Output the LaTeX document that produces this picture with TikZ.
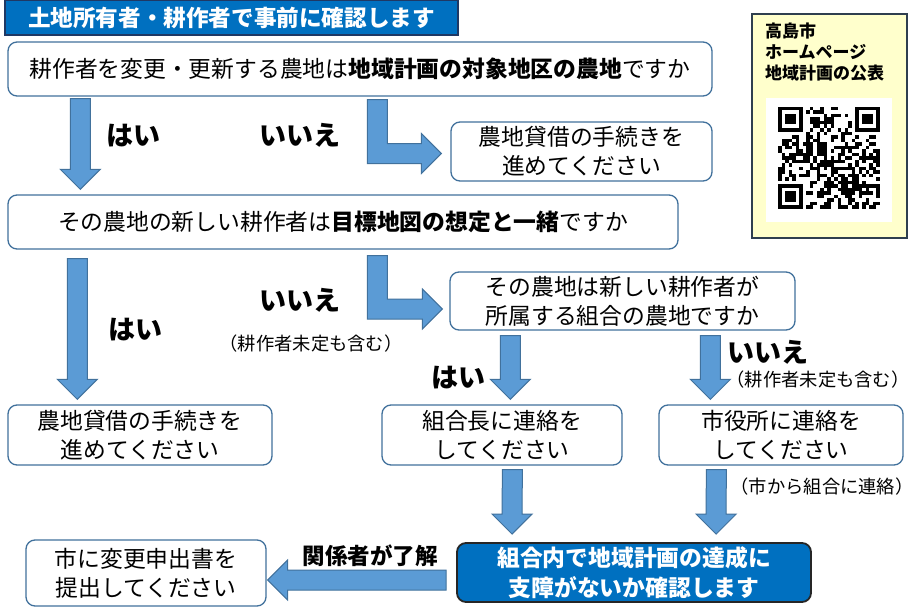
\documentclass[tikz,border=0pt]{standalone}
\usepackage{fontspec}
\setmainfont{Noto Sans CJK JP}
\usetikzlibrary{calc}
\definecolor{boxline}{HTML}{41719C}
\definecolor{arrowfill}{HTML}{5B9BD5}
\definecolor{arrowline}{HTML}{41719C}
\definecolor{titleblue}{HTML}{0070C0}
\definecolor{titleline}{HTML}{1F3864}
\definecolor{qrpaper}{HTML}{FFFFCC}
\definecolor{qrline}{HTML}{2F3F4F}
\tikzset{
  qbox/.style={draw=boxline, line width=1.3pt, rounded corners=9pt, fill=white,
    align=center, inner sep=0pt, font=\fontsize{22.8}{29}\selectfont},
  endbox/.style={draw=black!85, line width=1.8pt, rounded corners=9pt, fill=titleblue,
    text=white, align=center, inner sep=0pt, font=\bfseries\fontsize{22.8}{30}\selectfont},
  titlebar/.style={draw=titleline, line width=2pt, fill=titleblue, text=white,
    inner sep=0pt, font=\bfseries\fontsize{22.6}{26}\selectfont},
  blkarrow/.style={fill=arrowfill, draw=arrowline, line width=1pt},
  ans/.style={font=\bfseries\fontsize{27}{30}\selectfont},
  note/.style={font=\fontsize{18.3}{21}\selectfont},
}
\newcommand{\downblk}[2]{\draw[blkarrow] ($(#1)+(-10,0)$) -- ($(#2)+(-10,-20)$) -- ++(-10,0) -- (#2) -- ++(20,-20) -- ++(-10,0) -- ($(#1)+(10,0)$) -- cycle;}
\newcommand{\elbowblk}[2]{\draw[blkarrow] ($(#1)+(-10,0)$) |- ($(#2)+(-20,10)$) -- ++(0,10) -- (#2) -- ++(-20,-20) -- ++(0,10) -| ($(#1)+(10,0)$) -- cycle;}
\newcommand{\leftblk}[2]{\draw[blkarrow] ($(#1)+(0,-10)$) -- ($(#2)+(20,-10)$) -- ++(0,-10) -- (#2) -- ++(20,20) -- ++(0,-10) -- ($(#1)+(0,10)$) -- cycle;}
\begin{document}
\begin{tikzpicture}[x=1pt, y=-1pt]
  \useasboundingbox[fill=white] (0,0) rectangle (914,610);

  \node[titlebar, minimum width=453, minimum height=35] (title) at (231.5,17.5) {土地所有者・耕作者で事前に確認します};

  \node[qbox, minimum width=704, minimum height=54] (q1) at (360,69)
    {耕作者を変更・更新する農地は\textbf{地域計画の対象地区の農地}ですか};
  \node[qbox, minimum width=261, minimum height=59] (q2) at (581.5,151.5)
    {農地貸借の手続きを\\進めてください};
  \node[qbox, minimum width=670, minimum height=54] (q3) at (343,222)
    {その農地の新しい耕作者は\textbf{目標地図の想定と一緒}ですか};
  \node[qbox, minimum width=345, minimum height=58] (q4) at (622.5,301)
    {その農地は新しい耕作者が\\所属する組合の農地ですか};
  \node[qbox, minimum width=264, minimum height=60] (q5) at (140,435)
    {農地貸借の手続きを\\進めてください};
  \node[qbox, minimum width=240, minimum height=60] (q6) at (502,435)
    {組合長に連絡を\\してください};
  \node[qbox, minimum width=244, minimum height=60] (q7) at (781,435)
    {市役所に連絡を\\してください};
  \node[endbox, minimum width=354, minimum height=59] (q8) at (634,572.5)
    {組合内で地域計画の達成に\\支障がないか確認します};
  \node[qbox, minimum width=240, minimum height=66] (q9) at (146,573)
    {市に変更申出書を\\提出してください};

  \node[draw=qrline, line width=2pt, fill=qrpaper, minimum width=155, minimum height=223] (qr) at (829.5,126) {};
  \node[anchor=north west, align=left, inner sep=0pt,
    font=\bfseries\fontsize{17}{21}\selectfont] (qrtext) at (765,23)
    {高島市\\ホームページ\\地域計画の公表};
  \node[fill=white, minimum width=126, minimum height=124, inner sep=0pt] (qrcode) at (829,160) {};
  \begin{scope}[shift={(778,107)}, x=3.5pt, y=-3.5pt]
    \pgfmathsetseed{42}
    \foreach \i in {0,...,28}{
      \foreach \j in {0,...,28}{
        \pgfmathtruncatemacro\bit{rnd<0.5}
        \pgfmathtruncatemacro\infinder{(\i<8 && \j<8) || (\i>20 && \j<8) || (\i<8 && \j>20)}
        \ifnum\bit=1 \ifnum\infinder=0 \fill (\i,\j) rectangle ++(1,1); \fi\fi
      }
    }
    \foreach \p/\q in {0/0,22/0,0/22}{
      \fill (\p,\q) rectangle ++(7,7);
      \fill[white] (\p+1,\q+1) rectangle ++(5,5);
      \fill (\p+2,\q+2) rectangle ++(3,3);
    }
  \end{scope}

  \coordinate (a1s) at ($(q1.south west)+(73,2)$);
  \coordinate (a1e) at ($(q3.north west)+(73,-5)$);
  \coordinate (e1s) at ($(q1.south west)+(370,3)$);
  \coordinate (e1e) at ($(q2.west)+(-9,2)$);
  \coordinate (a2s) at ($(q3.south west)+(70,9)$);
  \coordinate (a2e) at ($(q5.north west)+(70,-5)$);
  \coordinate (e2s) at ($(q3.south west)+(370,6)$);
  \coordinate (e2e) at ($(q4.west)+(-7,8)$);
  \coordinate (a3s) at ($(q4.south west)+(61,5)$);
  \coordinate (a3e) at ($(q6.north west)+(129,-5)$);
  \coordinate (a4s) at ($(q4.south west)+(261,5)$);
  \coordinate (a4e) at ($(q7.north west)+(52,-5)$);
  \coordinate (a5s) at ($(q6.south west)+(131,4)$);
  \coordinate (a5e) at ($(q8.north west)+(56,-8)$);
  \coordinate (a6s) at ($(q7.south west)+(58,4)$);
  \coordinate (a6e) at ($(q8.north west)+(260,-8)$);
  \coordinate (l1s) at ($(q8.west)+(-10,7.5)$);
  \coordinate (l1e) at ($(q9.east)+(1,7)$);

  \downblk{a1s}{a1e}
  \elbowblk{e1s}{e1e}
  \downblk{a2s}{a2e}
  \elbowblk{e2s}{e2e}
  \downblk{a3s}{a3e}
  \downblk{a4s}{a4e}
  \downblk{a5s}{a5e}
  \downblk{a6s}{a6e}
  \leftblk{l1s}{l1e}

  \node[ans] (yes1) at (133,136) {はい};
  \node[ans] (no1) at (300,135) {いいえ};
  \node[ans] (yes2) at (135,330) {はい};
  \node[ans] (no2) at (300,300) {いいえ};
  \node[note] (undec1) at (311,344) {（耕作者未定も含む）};
  \node[ans] (yes3) at (458,378) {はい};
  \node[ans] (no3) at (768,352) {いいえ};
  \node[note] (undec2) at (818,380) {（耕作者未定も含む）};
  \node[note] (via) at (822,487) {（市から組合に連絡）};
  \node[ans, font=\bfseries\fontsize{22.5}{26}\selectfont] (agree) at (370,556) {関係者が了解};
\end{tikzpicture}
\end{document}
